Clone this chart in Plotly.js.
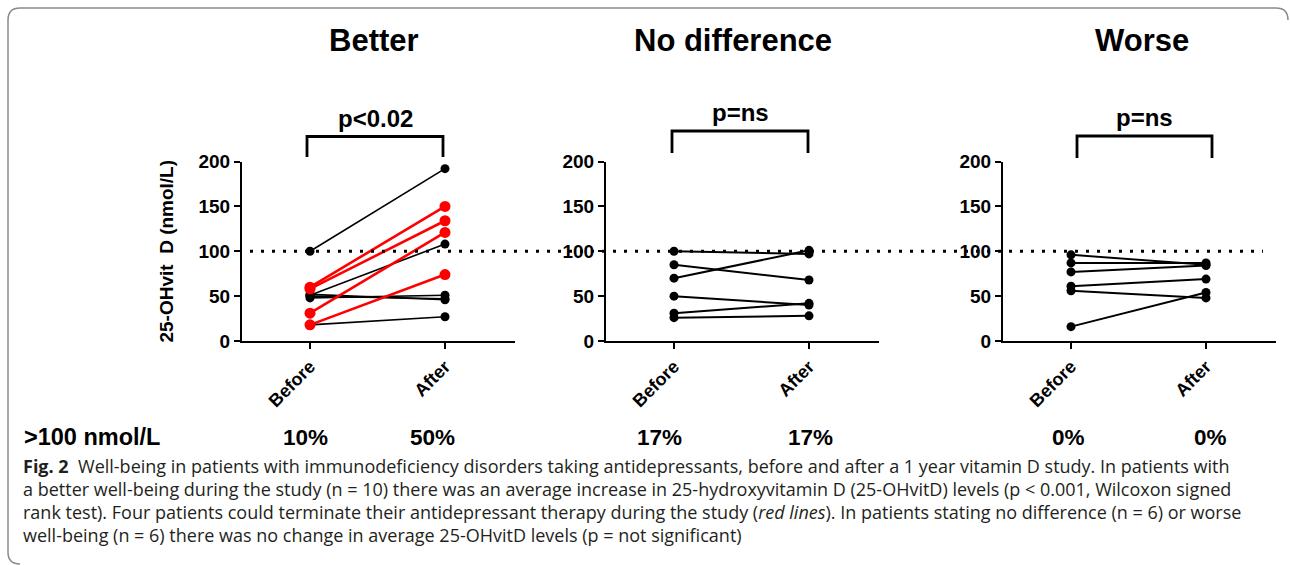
<!DOCTYPE html>
<html>
<head>
<meta charset="utf-8">
<script src="https://cdn.plot.ly/plotly-3.0.1.min.js"></script>
<style>
html,body{margin:0;padding:0;background:#fff;}
#chart{width:1290px;height:565px;}
</style>
</head>
<body>
<div id="chart"></div>
<script>
// ---------- DATA ----------
const categories = ['Before', 'After'];
const panelTitles = ['Better', 'No difference', 'Worse'];
const pValues = ['p<0.02', 'p=ns', 'p=ns'];

// Better (n = 10): black = continued antidepressants, red = terminated
const betterBlackBefore = [100, 51, 52, 50, 48, 18];
const betterBlackAfter  = [192, 108, 46, 47, 51, 27];
const betterRedBefore   = [60, 58, 31, 18];
const betterRedAfter    = [150, 134, 121, 74];

// No difference (n = 6)
const noDiffBefore = [100, 85, 70, 50, 31, 26];
const noDiffAfter  = [97, 68, 101, 40, 42, 28];

// Worse (n = 6)
const worseBefore = [96, 87, 77, 61, 56, 16];
const worseAfter  = [85, 87, 84, 69, 48, 54];

const yTickVals = [0, 50, 100, 150, 200];
const rowLabel = '>100 nmol/L';
const pctLabels = ['10%', '50%', '17%', '17%', '0%', '0%'];
const threshold = 100;

const captionLines = [
  '<b>Fig. 2</b>  Well-being in patients with immunodeficiency disorders taking antidepressants, before and after a 1 year vitamin D study. In patients with',
  'a better well-being during the study (n = 10) there was an average increase in 25-hydroxyvitamin D (25-OHvitD) levels (p < 0.001, Wilcoxon signed',
  'rank test). Four patients could terminate their antidepressant therapy during the study (<i>red lines</i>). In patients stating no difference (n = 6) or worse',
  'well-being (n = 6) there was no change in average 25-OHvitD levels (p = not significant)'
];

// ---------- LAYOUT HELPERS ----------
const W = 1290, H = 565;
const px = x => x / W;
const py = y => 1 - y / H;
const BOLD = 'Liberation Sans, Arial, Helvetica, sans-serif';

const panelLeft = [242, 606, 1003];
const panelWidth = 273;
const beforeOffset = 68;
const unit = 135;
const yTop = 161.5, yBottom = 341;

const traces = [];
function addPairs(before, after, color, axisIdx, lw, ms) {
  const xa = axisIdx === 0 ? 'x' : 'x' + (axisIdx + 1);
  const ya = axisIdx === 0 ? 'y' : 'y' + (axisIdx + 1);
  for (let i = 0; i < before.length; i++) {
    traces.push({
      type: 'scatter', mode: 'lines+markers',
      x: categories, y: [before[i], after[i]],
      xaxis: xa, yaxis: ya,
      line: {color: color, width: lw},
      marker: {color: color, size: ms},
      cliponaxis: false, hoverinfo: 'y', showlegend: false
    });
  }
}
addPairs(betterBlackBefore, betterBlackAfter, '#000000', 0, 1.6, 9);
addPairs(betterRedBefore, betterRedAfter, '#ff0000', 0, 2.6, 11);
addPairs(noDiffBefore, noDiffAfter, '#000000', 1, 2, 9);
addPairs(worseBefore, worseAfter, '#000000', 2, 2, 9);

const layout = {
  width: W, height: H,
  margin: {l: 0, r: 0, t: 0, b: 0},
  paper_bgcolor: '#ffffff', plot_bgcolor: 'rgba(0,0,0,0)',
  showlegend: false,
  annotations: [], shapes: []
};

for (let k = 0; k < 3; k++) {
  const sx = k === 0 ? '' : String(k + 1);
  const r0 = -beforeOffset / unit;
  const r1 = (panelWidth - beforeOffset) / unit;
  layout['xaxis' + sx] = {
    domain: [px(panelLeft[k]), px(panelLeft[k] + panelWidth)],
    anchor: 'y' + sx,
    type: 'category',
    range: [r0, r1],
    showgrid: false, zeroline: false,
    showline: true, linecolor: '#000', linewidth: 2,
    ticks: 'outside', ticklen: 6, tickwidth: 2, tickcolor: '#000',
    tickangle: -45,
    tickfont: {family: BOLD, size: 18, color: '#000', weight: 700}
  };
  layout['yaxis' + sx] = {
    domain: [py(yBottom), py(yTop)],
    anchor: 'x' + sx,
    range: [0, 200],
    tickvals: yTickVals,
    showgrid: false, zeroline: false,
    showline: true, linecolor: '#000', linewidth: 2,
    ticks: 'outside', ticklen: 6, tickwidth: 2, tickcolor: '#000',
    tickfont: {family: BOLD, size: 19, color: '#000', weight: 700}
  };
}
layout.yaxis.title = {
  text: '25-OHvit  D (nmol/L)',
  font: {family: BOLD, size: 19, color: '#000', weight: 700},
  standoff: 20
};

// panel titles
const titleX = [374, 733, 1142];
for (let k = 0; k < 3; k++) {
  layout.annotations.push({
    xref: 'paper', yref: 'paper', x: px(titleX[k]), y: py(40),
    xanchor: 'center', yanchor: 'middle', showarrow: false,
    text: '<b>' + panelTitles[k] + '</b>',
    font: {family: BOLD, size: 31, color: '#000'}
  });
}

// brackets + p values
const brL = [307, 672, 1077];
const brR = [443, 808, 1212];
const brTop = [136.5, 131, 136];
const brBot = [157, 153, 158];
for (let k = 0; k < 3; k++) {
  layout.shapes.push({
    type: 'path', xref: 'paper', yref: 'paper',
    path: 'M' + px(brL[k]) + ',' + py(brBot[k]) + ' L' + px(brL[k]) + ',' + py(brTop[k]) +
          ' L' + px(brR[k]) + ',' + py(brTop[k]) + ' L' + px(brR[k]) + ',' + py(brBot[k]),
    line: {color: '#000', width: 2.8}
  });
  layout.annotations.push({
    xref: 'paper', yref: 'paper', x: px((brL[k] + brR[k]) / 2), y: py(brTop[k] - 3),
    xanchor: 'center', yanchor: 'bottom', showarrow: false,
    text: '<b>' + pValues[k] + '</b>',
    font: {family: BOLD, size: 24, color: '#000'}
  });
}

// dotted threshold line across panels
layout.shapes.push({
  type: 'line', xref: 'paper', yref: 'y',
  x0: px(250), x1: px(1263), y0: threshold, y1: threshold,
  line: {color: '#000', width: 3, dash: '3px,8px'}
});

// bottom row
layout.annotations.push({
  xref: 'paper', yref: 'paper', x: px(22), y: py(437),
  xanchor: 'left', yanchor: 'middle', showarrow: false,
  text: '<b>' + rowLabel + '</b>',
  font: {family: BOLD, size: 23.5, color: '#000'}
});
const pctX = [305, 433, 659, 810, 1068, 1210];
for (let i = 0; i < pctLabels.length; i++) {
  layout.annotations.push({
    xref: 'paper', yref: 'paper', x: px(pctX[i]), y: py(437),
    xanchor: 'center', yanchor: 'middle', showarrow: false,
    text: '<b>' + pctLabels[i] + '</b>',
    font: {family: BOLD, size: 22.5, color: '#000'}
  });
}

// caption
const capY = [466, 489, 512, 535];
for (let i = 0; i < captionLines.length; i++) {
  layout.annotations.push({
    xref: 'paper', yref: 'paper', x: px(21), y: py(capY[i]),
    xanchor: 'left', yanchor: 'middle', showarrow: false, align: 'left',
    text: captionLines[i],
    font: {family: 'Open Sans, Noto Sans, sans-serif', size: 18, color: '#231f20'}
  });
}

// frame (rounded, top and left edges)
layout.shapes.push({
  type: 'path', xref: 'paper', yref: 'paper',
  path: 'M' + px(1288) + ',' + py(20) +
        ' Q' + px(1288) + ',' + py(8) + ' ' + px(1276) + ',' + py(8) +
        ' L' + px(20) + ',' + py(8) +
        ' Q' + px(8) + ',' + py(8) + ' ' + px(8) + ',' + py(20) +
        ' L' + px(8) + ',' + py(552) +
        ' Q' + px(8) + ',' + py(564) + ' ' + px(20) + ',' + py(564),
  line: {color: '#8a8a8a', width: 1.5}
});

Plotly.newPlot('chart', traces, layout, {displayModeBar: false, staticPlot: true});
</script>
</body>
</html>
